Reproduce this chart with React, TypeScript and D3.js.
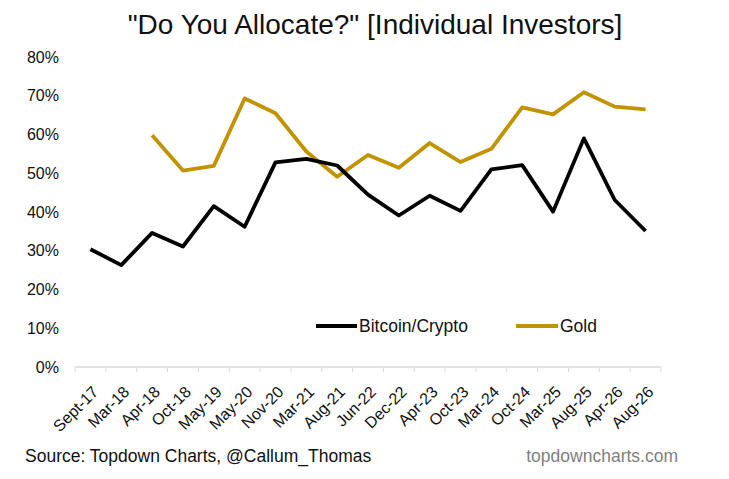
import * as d3 from "d3";

const categories = [
  "Sept-17", "Mar-18", "Apr-18", "Oct-18", "May-19", "May-20", "Nov-20", "Mar-21",
  "Aug-21", "Jun-22", "Dec-22", "Apr-23", "Oct-23", "Mar-24", "Oct-24", "Mar-25",
  "Aug-25", "Apr-26", "Aug-26",
];

const bitcoin = [
  30.4, 26.3, 34.6, 31.1, 41.5, 36.2, 52.8, 53.7, 52.0, 44.5,
  39.1, 44.2, 40.3, 51.0, 52.1, 40.1, 59.0, 43.1, 35.1,
];

// gold question starts at Apr-18
const gold: (number | null)[] = [
  null, null, 59.8, 50.7, 51.9, 69.3, 65.5, 55.6, 49.1, 54.7,
  51.4, 57.8, 52.9, 56.3, 67.0, 65.2, 70.9, 67.2, 66.5,
];

const yTicks = [0, 10, 20, 30, 40, 50, 60, 70, 80];

const W = 729;
const H = 479;
const margin = { top: 57, right: 68, bottom: 112, left: 75 };
const font = "Arial, 'Liberation Sans', sans-serif";
const goldColor = "#C29300";

const App = () => {
  const innerW = W - margin.left - margin.right;
  const innerH = H - margin.top - margin.bottom;

  const x = d3.scaleBand().domain(categories).range([0, innerW]);
  const y = d3.scaleLinear().domain([0, 80]).range([innerH, 0]);
  const cx = (c: string) => x(c)! + x.bandwidth() / 2;

  const line = d3
    .line<number | null>()
    .defined((d) => d != null)
    .x((_, i) => cx(categories[i]))
    .y((d) => y(d as number));

  return (
    <svg width={W} height={H} style={{ position: "absolute", left: 0, top: 0, background: "#fff" }}>
      <text x={375} y={34} textAnchor="middle" fontSize={28} fontFamily={font} fill="#111">
        "Do You Allocate?" [Individual Investors]
      </text>
      <g transform={`translate(${margin.left},${margin.top})`}>
        {yTicks.map((t) => (
          <text
            key={t}
            x={-16}
            y={y(t)}
            dy="0.35em"
            textAnchor="end"
            fontSize={16}
            fontFamily={font}
            fill="#111"
          >
            {t}%
          </text>
        ))}
        <line x1={0} x2={innerW} y1={innerH} y2={innerH} stroke="#d9d9d9" strokeWidth={1.5} />
        {d3.range(categories.length + 1).map((i) => (
          <line
            key={i}
            x1={i * x.step()}
            x2={i * x.step()}
            y1={innerH}
            y2={innerH + 5}
            stroke="#d9d9d9"
            strokeWidth={1}
          />
        ))}
        {categories.map((c) => (
          <text
            key={c}
            transform={`translate(${cx(c) + 9},${innerH + 26}) rotate(-45)`}
            textAnchor="end"
            fontSize={16}
            fontFamily={font}
            fill="#111"
          >
            {c}
          </text>
        ))}
        <path d={line(gold) ?? ""} fill="none" stroke={goldColor} strokeWidth={3.8} strokeLinejoin="round" />
        <path d={line(bitcoin) ?? ""} fill="none" stroke="#000" strokeWidth={3.8} strokeLinejoin="round" />
      </g>
      <g fontFamily={font} fontSize={17.5} fill="#111">
        <line x1={316} x2={357} y1={326} y2={326} stroke="#000" strokeWidth={3.8} />
        <text x={359} y={326} dy="0.35em">Bitcoin/Crypto</text>
        <line x1={516} x2={558} y1={326} y2={326} stroke={goldColor} strokeWidth={3.8} />
        <text x={560} y={326} dy="0.35em">Gold</text>
      </g>
      <text x={25} y={462} fontSize={17.5} fontFamily={font} fill="#111">
        Source: Topdown Charts, @Callum_Thomas
      </text>
      <text x={678} y={462} textAnchor="end" fontSize={17.5} fontFamily={font} fill="#7f7f7f">
        topdowncharts.com
      </text>
    </svg>
  );
};

export default App;
